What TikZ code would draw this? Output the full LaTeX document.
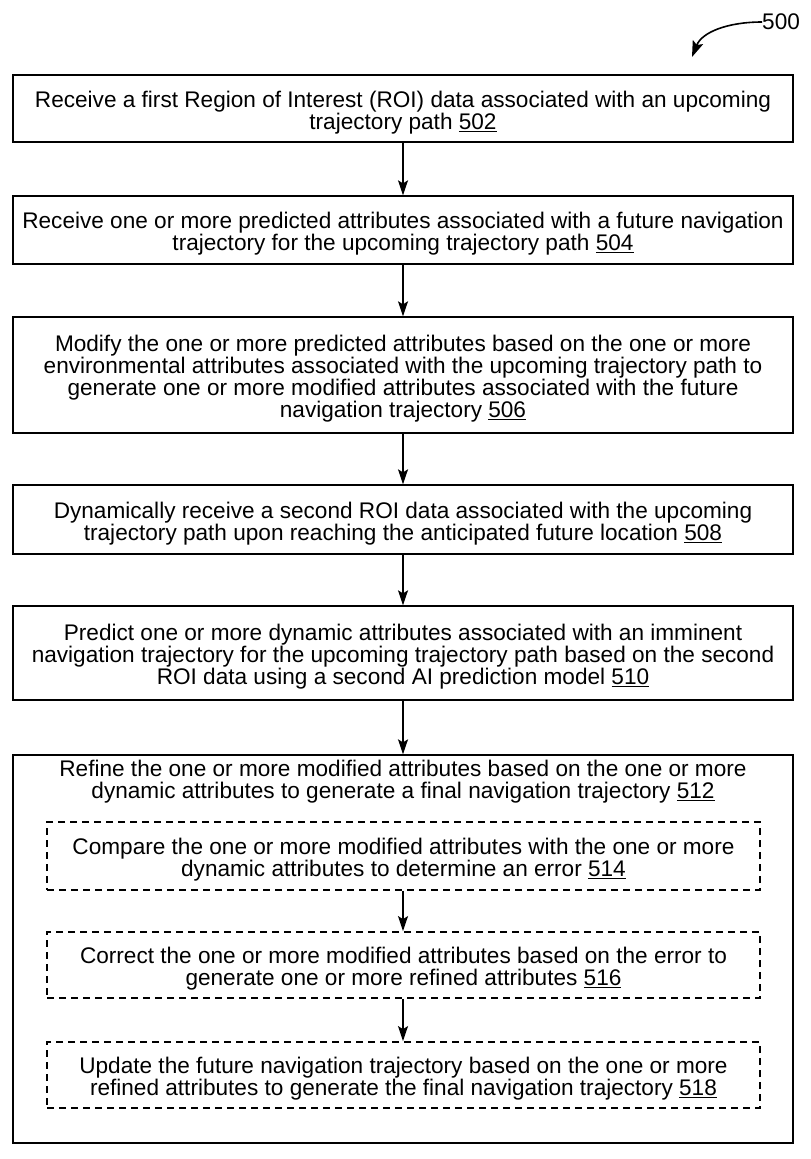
\documentclass[tikz,border=0pt]{standalone}
\usepackage{fontspec}
\setmainfont{Liberation Sans}
\usetikzlibrary{arrows.meta}
\newcommand{\refn}[1]{\underline{#1}}
\tikzset{
  every node/.style={font=\fontsize{22.6}{22}\selectfont},
  boxtext/.style={align=center, inner sep=0pt},
  stepbox/.style={draw, line width=1.3pt, minimum width=780pt, inner sep=0pt},
  subbox/.style={draw, line width=1.8pt, dash pattern=on 7pt off 5pt, minimum width=713pt, inner sep=0pt},
  outerbox/.style={draw, line width=1.3pt, minimum width=780pt, minimum height=388pt, inner sep=0pt},
  flow/.style={line width=1.4pt, -{Stealth[length=15pt,width=10pt,inset=3pt]}},
  txtshift/.style={yshift=-4pt},
}
\begin{document}
\begin{tikzpicture}[x=1pt,y=-1pt]
\useasboundingbox (0,0) rectangle (811,1159);
\node[stepbox, minimum height=67pt] (b502) at (403,108.5) {};
\node[boxtext] (t502) at ([txtshift]b502.center)
  {Receive a first Region of Interest (ROI) data associated with an upcoming\\trajectory path \refn{502}};
\node[stepbox, minimum height=68pt] (b504) at (403,230) {};
\node[boxtext] (t504) at ([txtshift]b504.center)
  {Receive one or more predicted attributes associated with a future navigation\\trajectory for the upcoming trajectory path \refn{504}};
\node[stepbox, minimum height=116pt] (b506) at (403,375) {};
\node[boxtext] (t506) at ([txtshift]b506.center)
  {Modify the one or more predicted attributes based on the one or more\\environmental attributes associated with the upcoming trajectory path to\\generate one or more modified attributes associated with the future\\navigation trajectory \refn{506}};
\node[stepbox, minimum height=69pt] (b508) at (403,519.5) {};
\node[boxtext] (t508) at ([txtshift]b508.center)
  {Dynamically receive a second ROI data associated with the upcoming\\trajectory path upon reaching the anticipated future location \refn{508}};
\node[stepbox, minimum height=94pt] (b510) at (403,653) {};
\node[boxtext] (t510) at ([txtshift]b510.center)
  {Predict one or more dynamic attributes associated with an imminent\\navigation trajectory for the upcoming trajectory path based on the second\\ROI data using a second AI prediction model \refn{510}};
\node[outerbox] (b512) at (403,949) {};
\node[boxtext] (t512) at (403,781.5)
  {Refine the one or more modified attributes based on the one or more\\dynamic attributes to generate a final navigation trajectory \refn{512}};
\node[subbox, minimum height=68pt] (b514) at (403.5,856) {};
\node[boxtext] (t514) at ([txtshift]b514.center)
  {Compare the one or more modified attributes with the one or more\\dynamic attributes to determine an error \refn{514}};
\node[subbox, minimum height=66pt] (b516) at (403.5,965) {};
\node[boxtext] (t516) at ([txtshift]b516.center)
  {Correct the one or more modified attributes based on the error to\\generate one or more refined attributes \refn{516}};
\node[subbox, minimum height=66pt] (b518) at (403.5,1075) {};
\node[boxtext] (t518) at ([txtshift]b518.center)
  {Update the future navigation trajectory based on the one or more\\refined attributes to generate the final navigation trajectory \refn{518}};
\draw[flow] (b502.south -| 403,0) -- (b504.north -| 403,0);
\draw[flow] (b504.south -| 403,0) -- (b506.north -| 403,0);
\draw[flow] (b506.south -| 403,0) -- (b508.north -| 403,0);
\draw[flow] (b508.south -| 403,0) -- (b510.north -| 403,0);
\draw[flow] (b510.south -| 403,0) -- (b512.north -| 403,0);
\draw[flow] (b514.south -| 403,0) -- (b516.north -| 403,0);
\draw[flow] (b516.south -| 403,0) -- (b518.north -| 403,0);
\node[anchor=west, inner sep=0pt] (l500) at (762,22) {500};
\coordinate (t500) at (692,57);
\draw[line width=1.6pt, -{Stealth[length=16pt,width=11pt,inset=3pt]}] (l500.west) .. controls (728,22) and (702,32) .. (t500);
\end{tikzpicture}
\end{document}
